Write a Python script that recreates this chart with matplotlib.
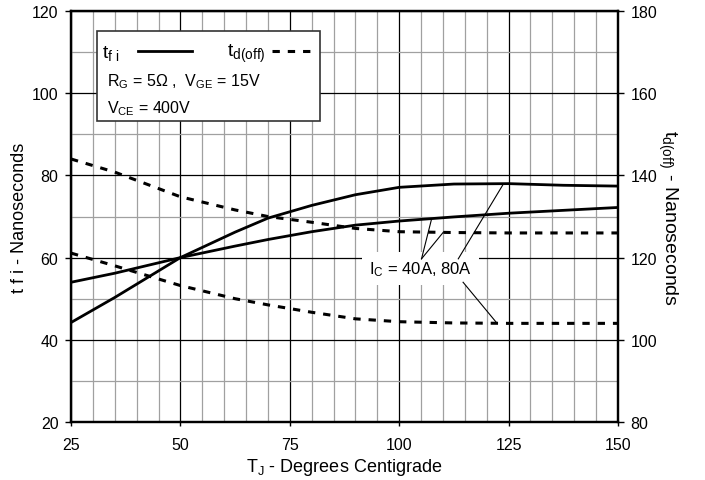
import matplotlib
matplotlib.use("Agg")
import matplotlib.pyplot as plt
from matplotlib.lines import Line2D
from matplotlib.patches import Rectangle
from matplotlib.ticker import MultipleLocator

plt.rcParams['font.family'] = ['Liberation Sans', 'DejaVu Sans']
plt.rcParams['mathtext.fontset'] = 'custom'
plt.rcParams['mathtext.rm'] = 'Liberation Sans'
plt.rcParams['mathtext.it'] = 'Liberation Sans'

# ---- data ----
temps = [25, 35, 50, 62.5, 70, 80, 90, 100, 112.5, 125, 137.5, 150]
tfi_a = [44.2, 50.3, 60, 66.2, 69.6, 72.7, 75.3, 77.1, 77.9, 78.0, 77.6, 77.4]
tfi_b = [54.0, 56.2, 60, 62.8, 64.4, 66.3, 67.9, 68.9, 69.9, 70.8, 71.5, 72.2]
tdoff_a = [144, 140.8, 134.8, 131.6, 130.0, 128.6, 127.1, 126.3, 126.1, 126, 126, 126]
tdoff_b = [121.1, 118.0, 113.2, 110.0, 108.5, 106.7, 105.1, 104.4, 104.1, 104, 104, 104]

x_ticks = [25, 50, 75, 100, 125, 150]
left_ticks = [20, 40, 60, 80, 100, 120]
right_ticks = [80, 100, 120, 140, 160, 180]

FS = 11.5
LFS = 13
fig = plt.figure(figsize=(7.05, 4.81), dpi=100)
ax = fig.add_axes([0.1007, 0.1206, 0.7759, 0.8544])
ax2 = ax.twinx()

ax.set_xlim(25, 150)
ax.set_ylim(20, 120)
ax2.set_ylim(80, 180)

ax.set_xticks(x_ticks)
ax.set_yticks(left_ticks)
ax2.set_yticks(right_ticks)
ax.xaxis.set_minor_locator(MultipleLocator(5))
ax.yaxis.set_minor_locator(MultipleLocator(10))

ax.grid(which='major', color='black', lw=0.9, zorder=0)
ax.grid(which='minor', color='#a0a0a0', lw=0.9, zorder=0)
ax.set_axisbelow(True)

ax.tick_params(axis='x', which='major', direction='out', length=3, width=1, labelsize=FS, pad=8)
ax.tick_params(axis='y', which='major', direction='out', length=4, width=1, labelsize=FS, pad=5)
ax.tick_params(which='minor', length=0)
ax2.tick_params(which='major', direction='out', length=4, width=1, labelsize=FS, pad=5)

for a in (ax, ax2):
    for s in a.spines.values():
        s.set_linewidth(1.6)
        s.set_color('black')

ax.plot(temps, tfi_a, color='black', lw=2.0, zorder=3)
ax.plot(temps, tfi_b, color='black', lw=2.0, zorder=3)
ax2.plot(temps, tdoff_a, color='black', lw=2.2, ls=(0, (2.4, 2.6)), zorder=3)
ax2.plot(temps, tdoff_b, color='black', lw=2.2, ls=(0, (2.4, 2.6)), zorder=3)

ax.set_xlabel(r'T$_\mathregular{J}$ - Degrees Centigrade', fontsize=LFS, labelpad=3)
ax.set_ylabel('t f i - Nanoseconds', fontsize=LFS, labelpad=3)
ax2.set_ylabel(r't$_\mathregular{d(off)}$ - Nanoseconds', fontsize=LFS + 1, rotation=270, labelpad=16)

# ---- legend box ----
box = Rectangle((0.0475, 0.732), 0.4075, 0.219, transform=ax.transAxes,
                facecolor='white', edgecolor='#333333', lw=1.2, zorder=5)
ax.add_patch(box)
ax.text(0.057, 0.898, r't$_\mathregular{f\ i}$', transform=ax.transAxes, fontsize=FS + 2.5,
        va='center', ha='left', zorder=6)
ax.add_line(Line2D([0.1225, 0.221], [0.903, 0.903], transform=ax.transAxes,
                   color='black', lw=2.0, zorder=6))
ax.text(0.285, 0.898, r't$_\mathregular{d(off)}$', transform=ax.transAxes, fontsize=FS + 2.5,
        va='center', ha='left', zorder=6)
ax.add_line(Line2D([0.367, 0.446], [0.903, 0.903], transform=ax.transAxes,
                   color='black', lw=2.2, ls=(0, (2.4, 2.6)), zorder=6))
ax.text(0.066, 0.830, r'R$_\mathregular{G}$ = 5$\Omega$ ,  V$_\mathregular{GE}$ = 15V',
        transform=ax.transAxes, fontsize=FS, va='center', ha='left', zorder=6)
ax.text(0.066, 0.766, r'V$_\mathregular{CE}$ = 400V',
        transform=ax.transAxes, fontsize=FS, va='center', ha='left', zorder=6)

# ---- annotation ----
ax.text(104.8, 57.3, r'I$_\mathregular{C}$ = 40A, 80A', fontsize=FS + 0.5, ha='center', va='center',
        zorder=6, bbox=dict(facecolor='white', edgecolor='none', pad=5))
leaders = [((105.1, 59.7), (107.4, 69.4)),
           ((105.1, 59.7), (110.1, 66.2)),
           ((113.5, 59.7), (123.8, 77.9)),
           ((114.6, 54.0), (122.3, 44.1))]
for (x0, y0), (x1, y1) in leaders:
    ax.plot([x0, x1], [y0, y1], color='black', lw=0.8, zorder=7)

fig.savefig('out.png', dpi=100)
